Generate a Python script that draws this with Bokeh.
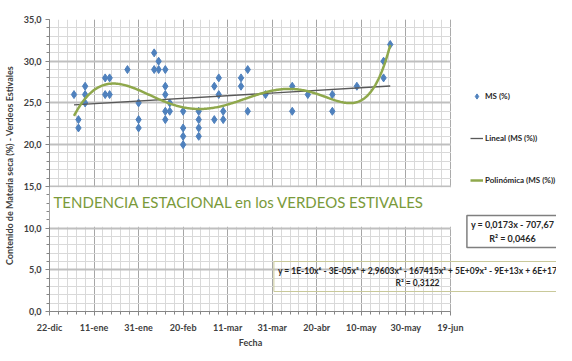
import numpy as np
import pandas as pd
from bokeh.plotting import figure
from bokeh.models import (Range1d, FixedTicker, SingleIntervalTicker, Legend, LegendItem,
                          Label, BoxAnnotation, CustomJSTickFormatter)
from bokeh.embed import file_html
from bokeh.resources import INLINE

# ---------------- data ----------------
fechas = (["2012-01-02"] + ["2012-01-04"] * 2 + ["2012-01-07"] * 3 +
          ["2012-01-16"] * 2 + ["2012-01-18"] * 2 + ["2012-01-26"] +
          ["2012-01-31"] * 3 + ["2012-02-07"] * 2 + ["2012-02-09"] * 2 +
          ["2012-02-12"] * 5 + ["2012-02-14"] * 2 + ["2012-02-20"] * 4 +
          ["2012-02-27"] * 4 + ["2012-03-05"] * 2 + ["2012-03-07"] * 2 +
          ["2012-03-09"] * 2 + ["2012-03-17"] * 2 + ["2012-03-20"] * 2 +
          ["2012-03-28"] + ["2012-04-09"] * 2 + ["2012-04-16"] +
          ["2012-04-27"] * 2 + ["2012-05-08"] + ["2012-05-20"] * 2 + ["2012-05-23"])
ms = [26,
      23, 22,
      27, 26, 25,
      28, 26,
      28, 26,
      29,
      25, 23, 22,
      31, 29,
      30, 29,
      29, 27, 26, 24, 23,
      25, 24,
      24, 22, 21, 20,
      24, 23, 22, 21,
      27, 23,
      28, 26,
      24, 23,
      28, 27,
      29, 24,
      26,
      27, 24,
      26,
      26, 24,
      27,
      30, 28,
      32]
tick_dates = ["2011-12-22", "2012-01-11", "2012-01-31", "2012-02-20", "2012-03-11",
              "2012-03-31", "2012-04-20", "2012-05-10", "2012-05-30", "2012-06-19"]
tick_labels = ["22-dic", "11-ene", "31-ene", "20-feb", "11-mar",
               "31-mar", "20-abr", "10-may", "30-may", "19-jun"]
eq_lineal = "y = 0,0173x - 707,67\nR² = 0,0466"
eq_poli = "y = 1E-10x⁶ - 3E-05x⁵ + 2,9603x⁴ - 167415x³ + 5E+09x² - 9E+13x + 6E+17\nR² = 0,3122"
titulo = "TENDENCIA ESTACIONAL en los VERDEOS ESTIVALES"

# ---------------- derived ----------------
x = pd.to_datetime(fechas)
t0 = pd.Timestamp(tick_dates[0])
t1 = pd.Timestamp(tick_dates[-1])
days = np.array([(d - t0).days for d in x], dtype=float)
y = np.array(ms, dtype=float)

lin = np.polyfit(days, y, 1)
pol = np.polyfit(days, y, 6)
dd = np.linspace(days.min(), days.max(), 300)
xd = [t0 + pd.Timedelta(days=float(v)) for v in dd]
xl = [t0 + pd.Timedelta(days=float(days.min())), t0 + pd.Timedelta(days=float(days.max()))]
yl = np.polyval(lin, [days.min(), days.max()])
yp = np.polyval(pol, dd)

tick_ms = [pd.Timestamp(d).value / 1e6 for d in tick_dates]
minor_ms = [tick_ms[0] + i * 4 * 86400000 for i in range(46)]

FONT = "Lato"
W = 556
TOP, PLOT_H, BOTTOM = 19, 292, 46
H = TOP + PLOT_H + BOTTOM
LEFT, PLOT_W = 40, 408           # plot area (to 19-jun) in px
span_days = (t1 - t0).days
x_end = t0 + pd.Timedelta(days=span_days * (W - LEFT) / PLOT_W)

p = figure(width=W, height=H, x_axis_type="datetime", output_backend="svg",
           toolbar_location=None,
           x_range=Range1d(t0, x_end), y_range=Range1d(0, 35),
           min_border_left=LEFT, min_border_right=0, min_border_top=TOP,
           min_border_bottom=BOTTOM)
p.outline_line_color = None
p.background_fill_color = "white"
p.border_fill_color = "white"

# axes
p.xaxis.ticker = FixedTicker(ticks=tick_ms, minor_ticks=minor_ms)
p.xaxis.major_label_overrides = {t: l for t, l in zip(tick_ms, tick_labels)}
p.xaxis.bounds = (tick_ms[0], tick_ms[-1])
p.yaxis.ticker = SingleIntervalTicker(interval=5, num_minor_ticks=5)
p.yaxis.formatter = CustomJSTickFormatter(code="return tick.toFixed(1).replace('.', ',');")
for ax in (p.xaxis[0], p.yaxis[0]):
    ax.axis_line_color = "#868686"
    ax.major_tick_line_color = "#868686"
    ax.minor_tick_line_color = "#868686"
    ax.major_tick_out = 4
    ax.major_tick_in = 0
    ax.minor_tick_out = 3
    ax.minor_tick_in = 0
    ax.major_label_text_font = FONT
    ax.major_label_text_font_size = "9px"
    ax.major_label_text_font_style = "bold"
    ax.major_label_text_color = "#404040"
    ax.axis_label_text_font = FONT
    ax.axis_label_text_font_size = "9px"
    ax.axis_label_text_font_style = "bold"
    ax.axis_label_text_color = "#404040"
# centre "Fecha" under the plot area (not under the legend zone)
p.xaxis.axis_label = "Fecha" + "\u00a0" * 48
p.xaxis.major_label_standoff = 6
p.xaxis.axis_label_standoff = 1
p.yaxis.axis_label = "Contenido de Materia seca (%) - Verdeos Estivales"
p.yaxis.major_label_standoff = 4
p.yaxis.axis_label_standoff = 6

# grids
p.xgrid.grid_line_color = "#a6a6a6"
p.xgrid.grid_line_width = 1
p.xgrid.minor_grid_line_color = "#d9d9d9"
p.ygrid.grid_line_color = "#bfbfbf"
p.ygrid.grid_line_width = 2
p.ygrid.minor_grid_line_color = "#d9d9d9"

# blank area right of the plot area (legend / equations zone)
p.add_layout(BoxAnnotation(left=t1 + pd.Timedelta(hours=6), fill_color="white", fill_alpha=1,
                           line_color=None))
# title box (white background over grid)
p.add_layout(BoxAnnotation(bottom=10.15, top=14.9, fill_color="white", fill_alpha=1,
                           line_color=None))

# glyphs
r_pts = p.scatter(x, y, marker="diamond", size=8, color="#4F81BD")
r_lin = p.line(xl, yl, line_color="#595959", line_width=1.3)
r_pol = p.line(xd, yp, line_color="#8FA84C", line_width=2.5)

legend = Legend(items=[LegendItem(label="MS (%)", renderers=[r_pts]),
                       LegendItem(label="Lineal (MS (%))", renderers=[r_lin]),
                       LegendItem(label="Polinómica (MS (%))", renderers=[r_pol])],
                location=(421, 124), padding=0, margin=0, spacing=28,
                glyph_width=13, glyph_height=14, label_height=14, label_standoff=2,
                border_line_color=None, background_fill_alpha=0,
                label_text_font=FONT, label_text_font_size="8px",
                label_text_font_style="bold", label_text_color="#262626")
p.add_layout(legend)

p.add_layout(Label(x=4, y=110, x_units="screen", y_units="screen", text=titulo,
                   text_font=FONT, text_font_size="15px",
                   text_color="#7A9A3A", text_baseline="middle"))

p.add_layout(Label(x=463, y=80, x_units="screen", y_units="screen", text=eq_lineal,
                   text_font=FONT, text_font_size="9px", text_font_style="bold",
                   text_color="#262626", text_align="center", text_baseline="middle",
                   background_fill_color="white", border_line_color="#7f7f7f",
                   border_line_width=1.5, padding=4))
p.add_layout(Label(x=368, y=35, x_units="screen", y_units="screen", text=eq_poli,
                   text_font=FONT, text_font_size="8.5px", text_font_style="bold",
                   text_color="#262626", text_align="center", text_baseline="middle",
                   border_line_color="#c9c99a", border_line_width=1, padding=4))

open("out.html", "w").write(file_html(p, INLINE))
